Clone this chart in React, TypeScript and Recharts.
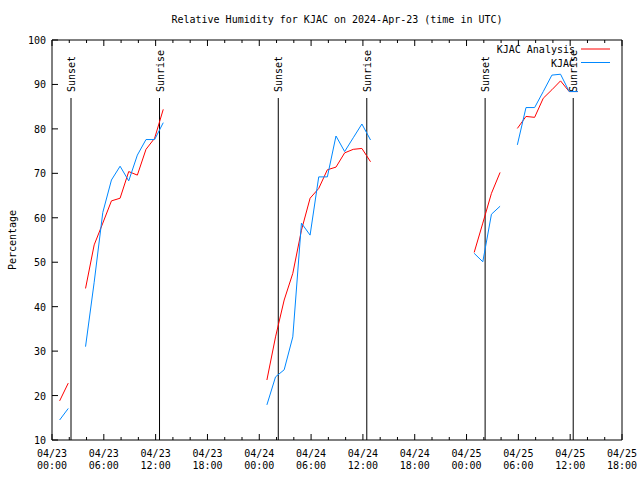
import React from 'react';
import { LineChart, Line, XAxis, YAxis, ReferenceLine, Legend } from 'recharts';

// hours since 04/23 00:00 UTC (obs reported at :53 of the previous hour)
const obsHours = [
  1, 2, 3, 4, 5, 6, 7, 8, 9, 10, 11, 12, 13, 14,
  25, 26, 27, 28, 29, 30, 31, 32, 33, 34, 35, 36, 37, 38,
  49, 50, 51, 52, 53, 54, 55, 56, 57, 58, 59, 60, 61,
];

const analysisRH = [
  18.8, 22.8, null, 44.1, 53.9, 58.8, 63.8, 64.4, 70.4, 69.6, 75.4, 77.9, 84.4, null,
  23.5, 33.2, 41.5, 47.5, 57.2, 64.4, 66.6, 70.8, 71.4, 74.6, 75.4, 75.6, 72.6, null,
  52.2, 58.8, 65.5, 70.2, null, 80.1, 82.8, 82.6, 86.9, 88.8, 90.8, 88.4, 88.4,
];

const observedRH = [
  14.5, 17.1, null, 31.0, 45.5, 61.2, 68.5, 71.6, 68.3, 74.1, 77.6, 77.6, 81.4, null,
  17.9, 24.2, 25.8, 33.2, 58.8, 56.1, 69.2, 69.2, 78.4, 74.9, 78.0, 81.1, 77.5, null,
  52.0, 50.1, 60.8, 62.6, null, 76.4, 84.8, 84.8, 88.4, 92.1, 92.3, 88.4, 88.4,
];

const seriesNames = ['KJAC Analysis', 'KJAC'];

const sunTimes = [2.2, 12.45, 26.2, 36.45, 50.15, 60.35];
const sunLabels = ['Sunset', 'Sunrise', 'Sunset', 'Sunrise', 'Sunset', 'Sunrise'];

const xTicks = [
  0, 2, 4, 6, 8, 10, 12, 14, 16, 18, 20, 22, 24, 26, 28, 30, 32,
  34, 36, 38, 40, 42, 44, 46, 48, 50, 52, 54, 56, 58, 60, 62, 64, 66,
];
const tickDates = ['04/23', '04/23', '04/23', '04/23', '04/24', '04/24', '04/24', '04/24', '04/25', '04/25', '04/25', '04/25'];
const tickTimes = ['00:00', '06:00', '12:00', '18:00', '00:00', '06:00', '12:00', '18:00', '00:00', '06:00', '12:00', '18:00'];
const yTicks = [10, 20, 30, 40, 50, 60, 70, 80, 90, 100];

const FONT = '"DejaVu Sans Mono", "Liberation Mono", monospace';
const TITLE = 'Relative Humidity for KJAC on 2024-Apr-23 (time in UTC)';

const data = obsHours.map((h, i) => ({
  t: h - 7 / 60,
  analysis: analysisRH[i],
  observed: observedRH[i],
}));

const BottomTick = (props: any) => {
  const { x, y, payload } = props;
  const v = payload.value;
  const major = v % 6 === 0;
  const i = v / 6;
  return (
    <g>
      <line x1={x} y1={y} x2={x} y2={y - (major ? 6 : 3)} stroke="#000" />
      {major && (
        <text x={x} y={y + 17} textAnchor="middle" fontFamily={FONT} fontSize={10} fill="#000">
          <tspan x={x}>{tickDates[i]}</tspan>
          <tspan x={x} dy={12}>{tickTimes[i]}</tspan>
        </text>
      )}
    </g>
  );
};

const TopTick = (props: any) => {
  const { x, y, payload } = props;
  const major = payload.value % 6 === 0;
  return <line x1={x} y1={y} x2={x} y2={y + (major ? 6 : 3)} stroke="#000" />;
};

const LeftTick = (props: any) => {
  const { x, y, payload } = props;
  return (
    <g>
      <line x1={x} y1={y} x2={x + 6} y2={y} stroke="#000" />
      <text x={x - 6} y={y + 4} textAnchor="end" fontFamily={FONT} fontSize={10} fill="#000">
        {payload.value}
      </text>
    </g>
  );
};

const RightTick = (props: any) => {
  const { x, y } = props;
  return <line x1={x} y1={y} x2={x - 6} y2={y} stroke="#000" />;
};

const sunShape = (label: string) => (p: any) => {
  const top = Math.min(p.y1, p.y2);
  const bottom = Math.max(p.y1, p.y2);
  return (
    <g>
      <line x1={p.x1} x2={p.x1} y1={top + 58} y2={bottom} stroke="#000" strokeWidth={1} />
      <text
        transform={`translate(${p.x1 + 4},${top + 52}) rotate(-90)`}
        fontFamily={FONT}
        fontSize={10}
        fill="#000"
      >
        {label}
      </text>
    </g>
  );
};

const LegendBox = (props: any) => {
  const items = [...(props.payload || [])].sort(
    (a: any, b: any) => seriesNames.indexOf(a.value) - seriesNames.indexOf(b.value)
  );
  return (
    <svg width={140} height={30}>
      {items.map((entry: any, i: number) => (
        <g key={entry.value}>
          <text x={95} y={9 + i * 13.5 + 4} textAnchor="end" fontFamily={FONT} fontSize={10} fill="#000">
            {entry.value}
          </text>
          <line x1={101} x2={130} y1={9 + i * 13.5} y2={9 + i * 13.5} stroke={entry.color} />
        </g>
      ))}
    </svg>
  );
};

export default function App() {
  return (
    <div style={{ position: 'absolute', left: 0, top: 0, background: '#fff' }}>
      <LineChart width={640} height={480} data={data} margin={{ top: 10, right: 0, bottom: 10, left: 2 }}>
        <XAxis
          dataKey="t"
          type="number"
          domain={[0, 66]}
          ticks={xTicks}
          interval={0}
          height={30}
          tickSize={0}
          tickMargin={0}
          tickLine={false}
          tick={<BottomTick />}
          axisLine={{ stroke: '#000' }}
        />
        <XAxis
          xAxisId="top"
          dataKey="t"
          type="number"
          orientation="top"
          domain={[0, 66]}
          ticks={xTicks}
          interval={0}
          height={30}
          tickSize={0}
          tickMargin={0}
          tickLine={false}
          tick={<TopTick />}
          axisLine={{ stroke: '#000' }}
          label={(p: any) => (
            <text
              x={p.viewBox.x + p.viewBox.width / 2}
              y={p.viewBox.y + 13}
              textAnchor="middle"
              fontFamily={FONT}
              fontSize={10}
              fill="#000"
            >
              {TITLE}
            </text>
          )}
        />
        <YAxis
          type="number"
          domain={[10, 100]}
          ticks={yTicks}
          interval={0}
          width={50}
          tickSize={0}
          tickMargin={0}
          tickLine={false}
          tick={<LeftTick />}
          axisLine={{ stroke: '#000' }}
          label={(p: any) => (
            <text
              transform={`translate(${p.viewBox.x + 10},${p.viewBox.y + p.viewBox.height / 2}) rotate(-90)`}
              textAnchor="middle"
              dominantBaseline="central"
              fontFamily={FONT}
              fontSize={10}
              fill="#000"
            >
              Percentage
            </text>
          )}
        />
        <YAxis
          yAxisId="right"
          orientation="right"
          type="number"
          domain={[10, 100]}
          ticks={yTicks}
          interval={0}
          width={18}
          tickSize={0}
          tickMargin={0}
          tickLine={false}
          tick={<RightTick />}
          axisLine={{ stroke: '#000' }}
        />
        {sunTimes.map((t, i) => (
          <ReferenceLine key={`sun-${i}`} x={t} stroke="#000" shape={sunShape(sunLabels[i])} />
        ))}
        <Line
          name={seriesNames[0]}
          dataKey="analysis"
          stroke="#ff0000"
          strokeWidth={1}
          dot={false}
          activeDot={false}
          connectNulls={false}
          isAnimationActive={false}
        />
        <Line
          name={seriesNames[1]}
          dataKey="observed"
          stroke="#0088ff"
          strokeWidth={1}
          dot={false}
          activeDot={false}
          connectNulls={false}
          isAnimationActive={false}
        />
        <Legend
          layout="horizontal"
          verticalAlign="middle"
          align="center"
          content={<LegendBox />}
          wrapperStyle={{ position: 'absolute', top: 40, left: 480, width: 140, height: 30 }}
        />
      </LineChart>
    </div>
  );
}
